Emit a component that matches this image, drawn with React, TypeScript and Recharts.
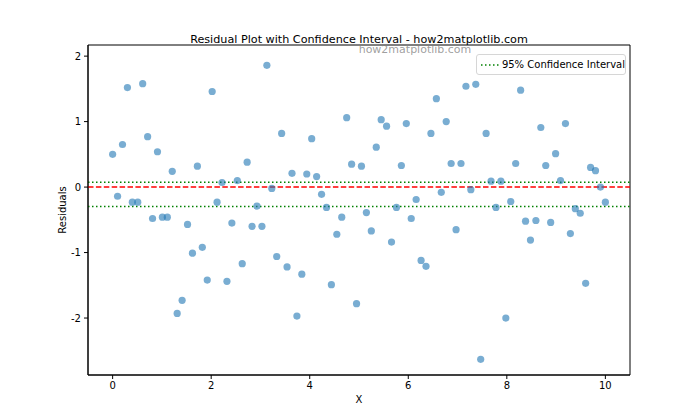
import {
  ScatterChart,
  Scatter,
  XAxis,
  YAxis,
  ReferenceLine,
  ReferenceArea,
} from "recharts";

// x positions (evenly spaced 0..10, 100 samples)
const X_VALUES = [
  0.0, 0.1, 0.2, 0.3, 0.4, 0.51, 0.61, 0.71, 0.81, 0.91,
  1.01, 1.11, 1.21, 1.31, 1.41, 1.52, 1.62, 1.72, 1.82, 1.92,
  2.02, 2.12, 2.22, 2.32, 2.42, 2.53, 2.63, 2.73, 2.83, 2.93,
  3.03, 3.13, 3.23, 3.33, 3.43, 3.54, 3.64, 3.74, 3.84, 3.94,
  4.04, 4.14, 4.24, 4.34, 4.44, 4.55, 4.65, 4.75, 4.85, 4.95,
  5.05, 5.15, 5.25, 5.35, 5.45, 5.56, 5.66, 5.76, 5.86, 5.96,
  6.06, 6.16, 6.26, 6.36, 6.46, 6.57, 6.67, 6.77, 6.87, 6.97,
  7.07, 7.17, 7.27, 7.37, 7.47, 7.58, 7.68, 7.78, 7.88, 7.98,
  8.08, 8.18, 8.28, 8.38, 8.48, 8.59, 8.69, 8.79, 8.89, 8.99,
  9.09, 9.19, 9.29, 9.39, 9.49, 9.6, 9.7, 9.8, 9.9, 10.0,
];

const RESIDUALS = [
  0.5, -0.14, 0.65, 1.52, -0.23, -0.23, 1.58, 0.77, -0.48, 0.54,
  -0.46, -0.46, 0.24, -1.93, -1.73, -0.57, -1.01, 0.32, -0.92, -1.42,
  1.46, -0.23, 0.07, -1.44, -0.55, 0.1, -1.17, 0.38, -0.6, -0.29,
  -0.6, 1.86, -0.02, -1.06, 0.82, -1.22, 0.21, -1.97, -1.33, 0.2,
  0.74, 0.16, -0.11, -0.31, -1.49, -0.72, -0.46, 1.06, 0.35, -1.78,
  0.32, -0.39, -0.67, 0.61, 1.03, 0.93, -0.84, -0.31, 0.33, 0.97,
  -0.48, -0.19, -1.12, -1.21, 0.82, 1.35, -0.08, 1.0, 0.36, -0.65,
  0.36, 1.54, -0.04, 1.57, -2.63, 0.82, 0.09, -0.31, 0.09, -2.0,
  -0.22, 0.36, 1.48, -0.52, -0.81, -0.51, 0.91, 0.33, -0.54, 0.51,
  0.1, 0.97, -0.71, -0.33, -0.4, -1.47, 0.3, 0.25, 0.0, -0.23,
];

const X_TICKS = [0, 2, 4, 6, 8, 10];
const Y_TICKS = [-2, -1, 0, 1, 2];
const X_DOMAIN: [number, number] = [-0.5, 10.5];
const Y_DOMAIN: [number, number] = [-2.87, 2.17];
const CI_UPPER = 0.072;
const CI_LOWER = -0.295;

const FONT = "'DejaVu Sans', sans-serif";
const POINT = "#1f77b4";

const data = X_VALUES.map((x, i) => ({ x, y: RESIDUALS[i] }));

export default function App() {
  return (
    <div
      style={{
        position: "absolute",
        left: 0,
        top: 0,
        width: 700,
        height: 420,
        background: "#fff",
        fontFamily: FONT,
      }}
    >
      <ScatterChart
        width={700}
        height={420}
        margin={{ top: 45, right: 70, bottom: 15, left: 28 }}
      >
        <XAxis
          type="number"
          dataKey="x"
          domain={X_DOMAIN}
          ticks={X_TICKS}
          allowDataOverflow
          height={30}
          tickSize={4}
          tickMargin={3}
          stroke="#000"
          tick={{ fill: "#000", fontSize: 10, fontFamily: FONT }}
        />
        <YAxis
          type="number"
          dataKey="y"
          domain={Y_DOMAIN}
          ticks={Y_TICKS}
          allowDataOverflow
          width={60}
          tickSize={4}
          tickMargin={3}
          stroke="#000"
          tick={{ fill: "#000", fontSize: 10, fontFamily: FONT }}
        />
        <ReferenceArea
          x1={X_DOMAIN[0]}
          x2={X_DOMAIN[1]}
          y1={Y_DOMAIN[0]}
          y2={Y_DOMAIN[1]}
          fill="none"
          stroke="#000"
          strokeWidth={1}
        />
        <Scatter
          data={data}
          isAnimationActive={false}
          shape={(p: any) => (
            <circle cx={p.cx} cy={p.cy} r={3.6} fill={POINT} fillOpacity={0.6} />
          )}
        />
        <ReferenceLine y={0} stroke="#ff0000" strokeWidth={1.5} strokeDasharray="5.5 2.4" />
        <ReferenceLine y={CI_UPPER} stroke="#008000" strokeWidth={1.5} strokeDasharray="1.5 2.5" />
        <ReferenceLine y={CI_LOWER} stroke="#008000" strokeWidth={1.5} strokeDasharray="1.5 2.5" />
      </ScatterChart>

      {/* title */}
      <div
        style={{
          position: "absolute",
          left: 88,
          width: 542,
          top: 33,
          textAlign: "center",
          fontSize: 11.2,
          color: "#000",
          whiteSpace: "nowrap",
        }}
      >
        Residual Plot with Confidence Interval - how2matplotlib.com
      </div>
      {/* watermark */}
      <div
        style={{
          position: "absolute",
          left: 315,
          width: 200,
          top: 43,
          textAlign: "center",
          fontSize: 11,
          color: "rgba(128,128,128,0.75)",
          whiteSpace: "nowrap",
        }}
      >
        how2matplotlib.com
      </div>
      {/* legend */}
      <div
        style={{
          position: "absolute",
          left: 476,
          top: 54,
          width: 150,
          height: 21,
          boxSizing: "border-box",
          border: "1px solid #d6d6d6",
          borderRadius: 3,
          background: "rgba(255,255,255,0.8)",
          display: "flex",
          alignItems: "center",
          fontSize: 10,
          whiteSpace: "nowrap",
        }}
      >
        <svg width={26} height={10} style={{ marginLeft: 2 }}>
          <line x1={2} y1={5} x2={20} y2={5} stroke="#008000" strokeWidth={1.5} strokeDasharray="1.5 2.5" />
        </svg>
        <span>95% Confidence Interval</span>
      </div>
      {/* axis labels */}
      <div
        style={{
          position: "absolute",
          left: 88,
          width: 542,
          top: 394,
          textAlign: "center",
          fontSize: 10,
        }}
      >
        X
      </div>
      <div
        style={{
          position: "absolute",
          left: 62,
          top: 210,
          fontSize: 10,
          transform: "translate(-50%, -50%) rotate(-90deg)",
          whiteSpace: "nowrap",
        }}
      >
        Residuals
      </div>
    </div>
  );
}
